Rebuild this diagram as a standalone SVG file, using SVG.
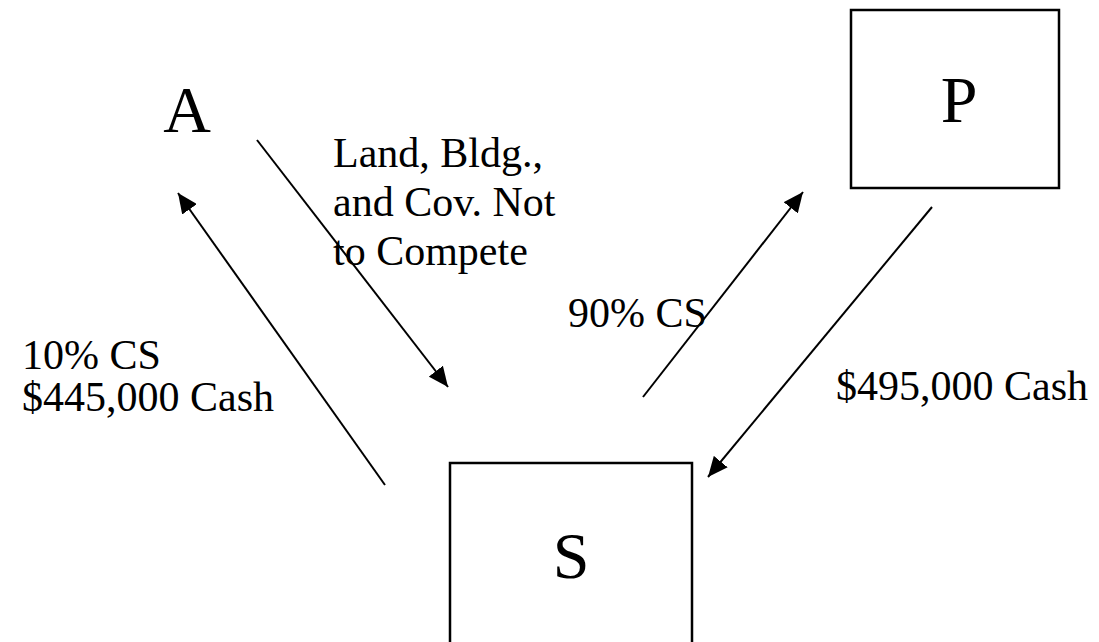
<svg xmlns="http://www.w3.org/2000/svg" width="1099" height="642" viewBox="0 0 1099 642">
<style>
.t{font-family:"Liberation Serif","Times New Roman",serif;fill:#000}
.lbl{font-size:42px}
.big{font-size:66px}
.box{fill:#fff;stroke:#000;stroke-width:2.5}
.ln{stroke:#000;stroke-width:2;fill:none}
</style>
<defs>
<marker id="ah" viewBox="0 0 20 18" refX="20" refY="9" markerWidth="20" markerHeight="18" markerUnits="userSpaceOnUse" orient="auto">
<path d="M0,0 L20,9 L0,18 z" fill="#000"/>
</marker>
</defs>
<rect width="1099" height="642" fill="#fff"/>
<g id="node-A"><text class="t big" x="187" y="132" text-anchor="middle">A</text></g>
<g id="node-P"><rect class="box" x="851" y="10" width="208" height="178"/><text class="t big" x="959" y="122" text-anchor="middle">P</text></g>
<g id="node-S"><rect class="box" x="450" y="463" width="242" height="200"/><text class="t big" x="571" y="578" text-anchor="middle">S</text></g>
<g id="connectors">
<line class="ln" x1="257" y1="140" x2="448" y2="387" marker-end="url(#ah)"/>
<line class="ln" x1="385" y1="485" x2="178" y2="193" marker-end="url(#ah)"/>
<line class="ln" x1="643" y1="397" x2="803" y2="192" marker-end="url(#ah)"/>
<line class="ln" x1="932" y1="207" x2="708" y2="477" marker-end="url(#ah)"/>
</g>
<g id="labels">
<text class="t lbl" x="333" y="167">Land, Bldg.,</text>
<text class="t lbl" x="333" y="216">and Cov. Not</text>
<text class="t lbl" x="333" y="265">to Compete</text>
<text class="t lbl" x="568" y="327">90% CS</text>
<text class="t lbl" x="22" y="369">10% CS</text>
<text class="t lbl" x="22" y="411">$445,000 Cash</text>
<text class="t lbl" x="836" y="400">$495,000 Cash</text>
</g>
</svg>
